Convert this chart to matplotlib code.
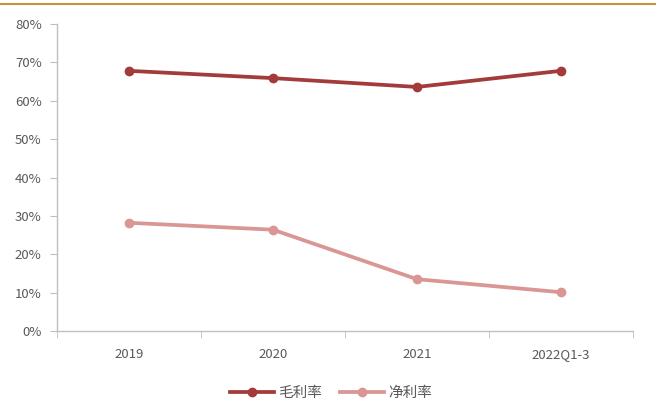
import matplotlib.pyplot as plt
from matplotlib.lines import Line2D

plt.rcParams['font.family'] = ['Noto Sans CJK SC', 'DejaVu Sans']

# 数据
categories = ['2019', '2020', '2021', '2022Q1-3']
gross_margin = [67.8, 65.9, 63.6, 67.8]   # 毛利率 %
net_margin = [28.2, 26.4, 13.5, 10.1]     # 净利率 %

fig = plt.figure(figsize=(6.62, 4.03), dpi=100)
ax = fig.add_axes([0.0861, 0.1787, 0.8699, 0.7617])

x = list(range(len(categories)))
ax.plot(x, gross_margin, color='#A33B3B', lw=2.7, marker='o', ms=6, label='毛利率')
ax.plot(x, net_margin, color='#D99694', lw=2.7, marker='o', ms=6, label='净利率')

ax.set_xlim(-0.5, len(categories) - 0.5)
ax.set_ylim(0, 80)
ax.set_yticks(range(0, 81, 10))
ax.set_yticklabels([f'{v}%' for v in range(0, 81, 10)])

# 类别刻度在中间，刻度线在边界
ax.set_xticks(x)
ax.set_xticklabels(categories)
ax.set_xticks([i - 0.5 for i in range(len(categories) + 1)], minor=True)
ax.tick_params(axis='x', which='major', length=0, pad=12)
ax.tick_params(axis='x', which='minor', length=5, color='#BFBFBF', direction='out')
ax.tick_params(axis='y', length=5, color='#BFBFBF', direction='out', pad=6)
ax.tick_params(labelsize=9.5, labelcolor='#595959')

for s in ['top', 'right']:
    ax.spines[s].set_visible(False)
for s in ['left', 'bottom']:
    ax.spines[s].set_color('#BFBFBF')
    ax.spines[s].set_linewidth(1)

leg = fig.legend(loc='center', bbox_to_anchor=(0.5, 0.025), ncol=2, frameon=False,
                 fontsize=10.5, handlelength=3, columnspacing=1.2, handletextpad=0.3)
for t in leg.get_texts():
    t.set_color('#595959')

# 顶部装饰线
fig.add_artist(Line2D([0.0, 0.99], [0.99, 0.99], color='#C8913A', lw=1.5))

fig.savefig('out.png', dpi=100)
